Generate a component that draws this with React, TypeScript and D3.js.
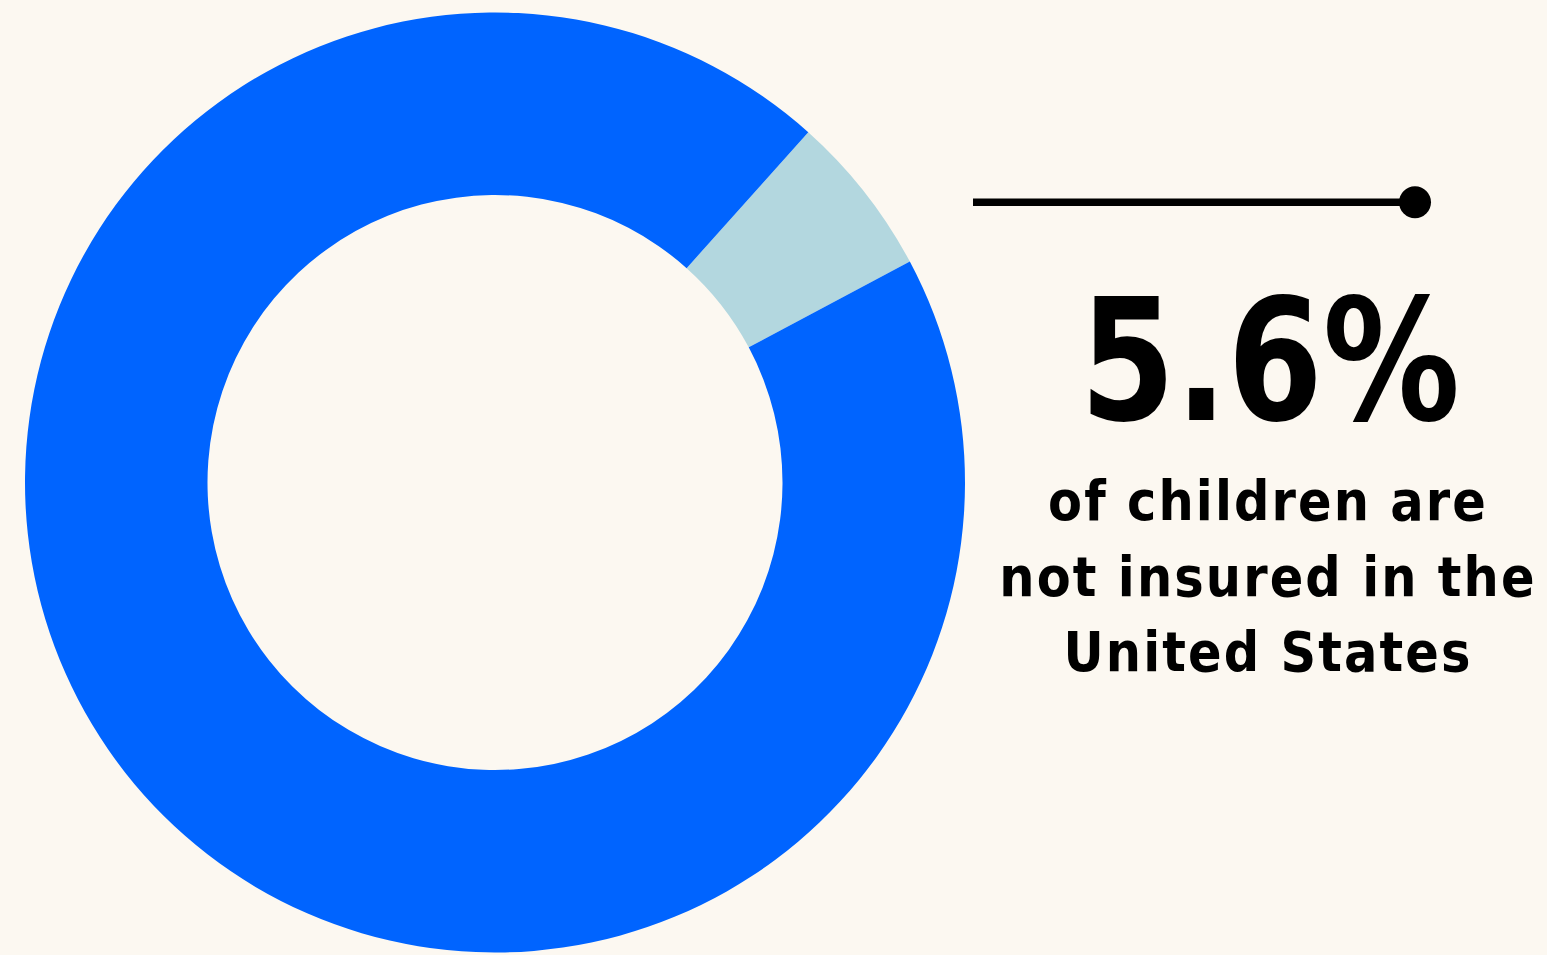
import React from "react";
import * as d3 from "d3";

const categories = ["Not insured", "Insured"];
const values = [5.6, 94.4];
const colors = ["#B3D7DF", "#0064FF"];
const headline = "5.6%";
const captionLines = ["of children are", "not insured in the", "United States"];

const W = 1547;
const H = 955;
const FONT = "'DejaVu Sans Condensed', 'DejaVu Sans', sans-serif";

export default function App() {
  const cx = 495;
  const cy = 482.5;
  const outerR = 470;
  const innerR = 287.5;
  const a0 = (41.8 * Math.PI) / 180;
  const pie = d3
    .pie<number>()
    .sort(null)
    .value((d) => d)
    .startAngle(a0)
    .endAngle(a0 + 2 * Math.PI);
  const arcs = pie(values);
  const arc = d3.arc<d3.PieArcDatum<number>>().innerRadius(innerR).outerRadius(outerR);

  const textX = 1267;
  return (
    <svg
      width={W}
      height={H}
      style={{ position: "absolute", left: 0, top: 0, display: "block" }}
    >
      <rect width={W} height={H} fill="#FCF8F1" />
      <g transform={`translate(${cx},${cy})`}>
        {arcs.map((a, i) => (
          <path key={categories[i]} d={arc(a) || ""} fill={colors[i]} />
        ))}
      </g>
      <line x1={973} x2={1410} y1={202.3} y2={202.3} stroke="#000" strokeWidth={7.5} />
      <circle cx={1415} cy={202.3} r={16} fill="#000" />
      <text
        transform={`translate(1270,420) scale(0.896,1)`}
        x={0}
        y={0}
        textAnchor="middle"
        fontFamily={FONT}
        fontWeight="bold"
        fontSize={170}
        fill="#000"
      >
        {headline}
      </text>
      {captionLines.map((l, i) => (
        <text
          key={l}
          x={textX + 1}
          y={520 + i * 75.5}
          textAnchor="middle"
          fontFamily={FONT}
          fontWeight="bold"
          fontSize={55}
          letterSpacing={2.1}
          fill="#000"
        >
          {l}
        </text>
      ))}
    </svg>
  );
}
